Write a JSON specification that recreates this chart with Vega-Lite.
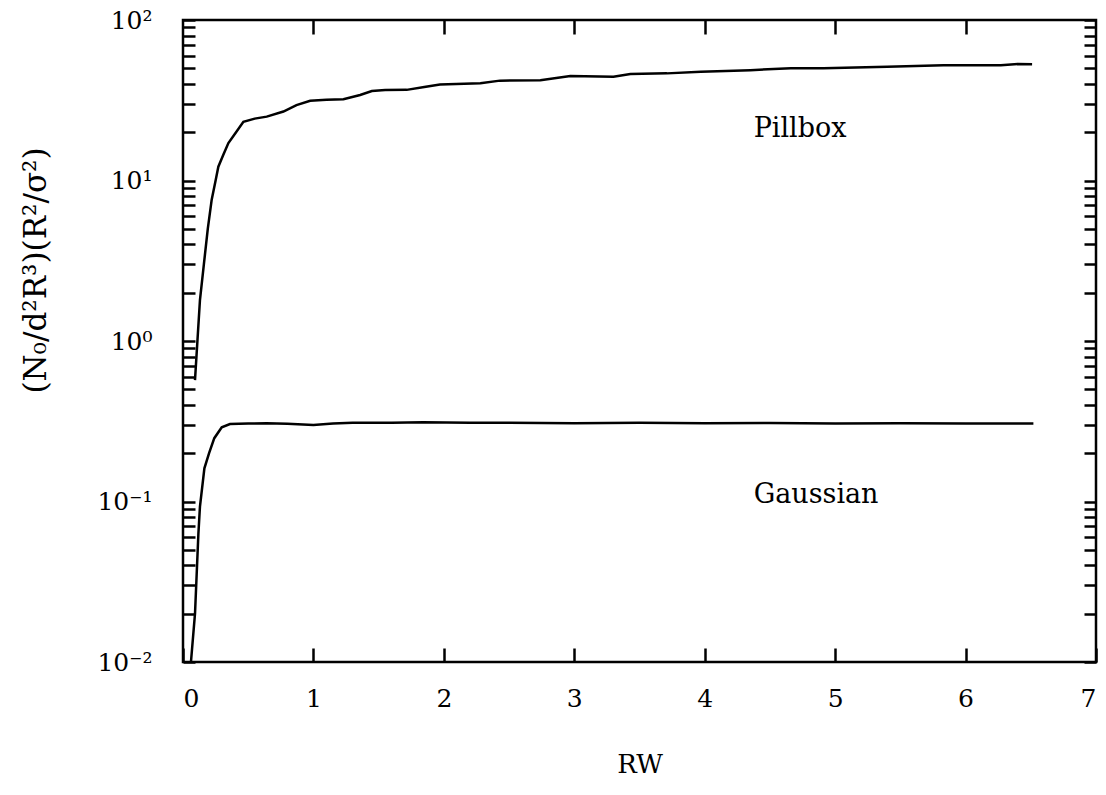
{
  "$schema": "https://vega.github.io/schema/vega-lite/v6.json",
  "autosize": {"type": "none"},
  "padding": {"left": 183, "top": 20, "right": 10, "bottom": 133},
  "width": 913,
  "height": 642,
  "background": "white",
  "config": {
    "view": {"stroke": "black", "strokeWidth": 2.5},
    "axis": {"domain": false, "grid": false, "ticks": true, "zindex": 1, "tickColor": "black", "tickWidth": 2.5, "labelColor": "black", "titleColor": "black", "labelFont": "DejaVu Serif", "titleFont": "DejaVu Serif", "labelFontSize": 25, "titleFontSize": 26, "titleFontWeight": "normal", "labelOverlap": false}
  },
  "datasets": {
    "curves": [
      {"series": "Pillbox", "rw": 0.092, "v": 0.57},
      {"series": "Pillbox", "rw": 0.13, "v": 1.8},
      {"series": "Pillbox", "rw": 0.16, "v": 3.0},
      {"series": "Pillbox", "rw": 0.19, "v": 5.0},
      {"series": "Pillbox", "rw": 0.22, "v": 7.6},
      {"series": "Pillbox", "rw": 0.25, "v": 10.0},
      {"series": "Pillbox", "rw": 0.271, "v": 12.2},
      {"series": "Pillbox", "rw": 0.31, "v": 14.5},
      {"series": "Pillbox", "rw": 0.348, "v": 17.1},
      {"series": "Pillbox", "rw": 0.40, "v": 19.6},
      {"series": "Pillbox", "rw": 0.463, "v": 23.2},
      {"series": "Pillbox", "rw": 0.55, "v": 24.3},
      {"series": "Pillbox", "rw": 0.642, "v": 25.0},
      {"series": "Pillbox", "rw": 0.77, "v": 26.9},
      {"series": "Pillbox", "rw": 0.87, "v": 29.5},
      {"series": "Pillbox", "rw": 0.975, "v": 31.4},
      {"series": "Pillbox", "rw": 1.1, "v": 31.9},
      {"series": "Pillbox", "rw": 1.23, "v": 32.1},
      {"series": "Pillbox", "rw": 1.358, "v": 34.1},
      {"series": "Pillbox", "rw": 1.448, "v": 36.1},
      {"series": "Pillbox", "rw": 1.55, "v": 36.6},
      {"series": "Pillbox", "rw": 1.715, "v": 36.7},
      {"series": "Pillbox", "rw": 1.85, "v": 38.3},
      {"series": "Pillbox", "rw": 1.97, "v": 39.7},
      {"series": "Pillbox", "rw": 2.28, "v": 40.3},
      {"series": "Pillbox", "rw": 2.43, "v": 41.9},
      {"series": "Pillbox", "rw": 2.74, "v": 42.2},
      {"series": "Pillbox", "rw": 2.97, "v": 44.8},
      {"series": "Pillbox", "rw": 3.30, "v": 44.3},
      {"series": "Pillbox", "rw": 3.43, "v": 46.1},
      {"series": "Pillbox", "rw": 3.71, "v": 46.5},
      {"series": "Pillbox", "rw": 3.97, "v": 47.6},
      {"series": "Pillbox", "rw": 4.35, "v": 48.7},
      {"series": "Pillbox", "rw": 4.66, "v": 50.0},
      {"series": "Pillbox", "rw": 4.91, "v": 50.0},
      {"series": "Pillbox", "rw": 5.40, "v": 51.2},
      {"series": "Pillbox", "rw": 5.83, "v": 52.2},
      {"series": "Pillbox", "rw": 6.27, "v": 52.2},
      {"series": "Pillbox", "rw": 6.40, "v": 53.2},
      {"series": "Pillbox", "rw": 6.51, "v": 53.0},
      {"series": "Gaussian", "rw": 0.061, "v": 0.01},
      {"series": "Gaussian", "rw": 0.092, "v": 0.020},
      {"series": "Gaussian", "rw": 0.118, "v": 0.063},
      {"series": "Gaussian", "rw": 0.130, "v": 0.093},
      {"series": "Gaussian", "rw": 0.164, "v": 0.161},
      {"series": "Gaussian", "rw": 0.20, "v": 0.20},
      {"series": "Gaussian", "rw": 0.24, "v": 0.248},
      {"series": "Gaussian", "rw": 0.297, "v": 0.29},
      {"series": "Gaussian", "rw": 0.36, "v": 0.304},
      {"series": "Gaussian", "rw": 0.5, "v": 0.306},
      {"series": "Gaussian", "rw": 0.64, "v": 0.307},
      {"series": "Gaussian", "rw": 0.8, "v": 0.305},
      {"series": "Gaussian", "rw": 1.0, "v": 0.300},
      {"series": "Gaussian", "rw": 1.15, "v": 0.306},
      {"series": "Gaussian", "rw": 1.3, "v": 0.310},
      {"series": "Gaussian", "rw": 1.6, "v": 0.309},
      {"series": "Gaussian", "rw": 1.84, "v": 0.312},
      {"series": "Gaussian", "rw": 2.2, "v": 0.309},
      {"series": "Gaussian", "rw": 2.5, "v": 0.310},
      {"series": "Gaussian", "rw": 3.0, "v": 0.307},
      {"series": "Gaussian", "rw": 3.5, "v": 0.309},
      {"series": "Gaussian", "rw": 4.0, "v": 0.307},
      {"series": "Gaussian", "rw": 4.5, "v": 0.308},
      {"series": "Gaussian", "rw": 5.0, "v": 0.306},
      {"series": "Gaussian", "rw": 5.5, "v": 0.307},
      {"series": "Gaussian", "rw": 6.0, "v": 0.306},
      {"series": "Gaussian", "rw": 6.52, "v": 0.306}
    ],
    "labels": [
      {"rw": 4.375, "v": 21, "label": "Pillbox"},
      {"rw": 4.375, "v": 0.11, "label": "Gaussian"}
    ]
  },
  "layer": [
    {
      "data": {"name": "curves"},
      "mark": {"type": "line", "color": "black", "strokeWidth": 2.5, "clip": true},
      "encoding": {
        "x": {"field": "rw", "type": "quantitative", "title": "RW",
          "scale": {"domain": [0, 7], "nice": false, "zero": false},
          "axis": {"orient": "bottom", "values": [0, 1, 2, 3, 4, 5, 6, 7], "offset": -14, "tickSize": 14, "tickWidth": 2.5, "tickColor": "black", "labelPadding": 24, "titlePadding": 40, "format": "d"}},
        "y": {"field": "v", "type": "quantitative", "title": "(N₀/d²R³)(R²/σ²)",
          "scale": {"type": "log", "domain": [0.01, 100], "nice": false},
          "axis": {"orient": "left", "values": [0.01,0.02,0.03,0.04,0.05,0.06,0.07,0.08,0.09,0.1,0.2,0.3,0.4,0.5,0.6,0.7,0.8,0.9,1,2,3,4,5,6,7,8,9,10,20,30,40,50,60,70,80,90,100],
            "labelExpr": "datum.value == 100 ? '10²' : datum.value == 10 ? '10¹' : datum.value == 1 ? '10⁰' : datum.value == 0.1 ? '10⁻¹' : datum.value == 0.01 ? '10⁻²' : ''",
            "tickSize": -12, "labelPadding": 43, "titlePadding": 44, "titleFontSize": 31, "titleY": 250}},
        "detail": {"field": "series", "type": "nominal"}
      }
    },
    {
      "data": {"name": "labels"},
      "mark": {"type": "text", "align": "left", "baseline": "middle", "font": "DejaVu Serif", "fontSize": 27, "color": "black"},
      "encoding": {
        "x": {"field": "rw", "type": "quantitative",
          "scale": {"domain": [0, 7], "nice": false, "zero": false},
          "axis": {"orient": "top", "values": [1, 2, 3, 4, 5, 6], "labels": false, "offset": -14, "tickSize": 14, "tickWidth": 2.5, "tickColor": "black", "title": null}},
        "y": {"field": "v", "type": "quantitative",
          "scale": {"type": "log", "domain": [0.01, 100], "nice": false},
          "axis": {"orient": "right", "values": [0.01,0.02,0.03,0.04,0.05,0.06,0.07,0.08,0.09,0.1,0.2,0.3,0.4,0.5,0.6,0.7,0.8,0.9,1,2,3,4,5,6,7,8,9,10,20,30,40,50,60,70,80,90,100], "labels": false, "tickSize": -12, "title": null}},
        "text": {"field": "label", "type": "nominal"}
      }
    }
  ],
  "resolve": {"axis": {"x": "independent", "y": "independent"}}
}
